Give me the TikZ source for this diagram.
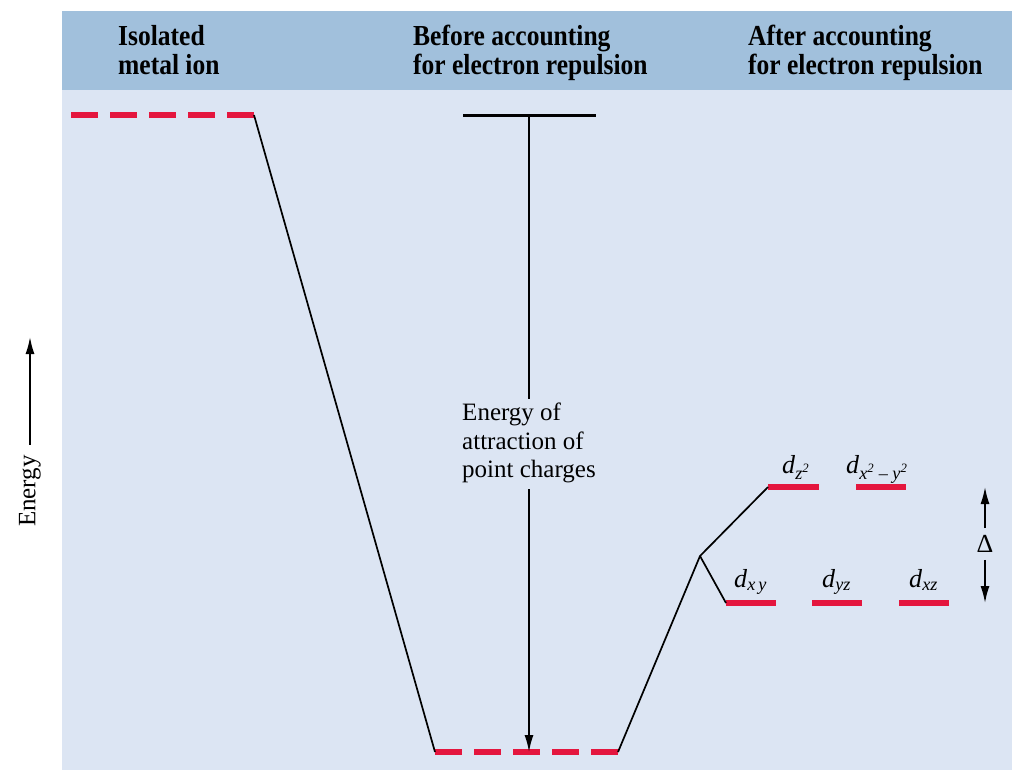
\documentclass[tikz,border=0pt]{standalone}
\usepackage{fontspec}
\setmainfont{Liberation Serif}
\newfontfamily\headfont[FakeStretch=0.88]{Liberation Serif}
\usetikzlibrary{arrows.meta, positioning}
\definecolor{headblue}{RGB}{161,192,220}
\definecolor{panelblue}{RGB}{220,229,243}
\definecolor{levelred}{RGB}{228,22,62}
\newcommand{\orb}[1]{\textit{d}\textsubscript{\itshape #1}}

\begin{document}
\begin{tikzpicture}[x=1pt, y=-1pt,
    redlevel/.style={levelred, line width=6pt},
    dashlevel/.style={redlevel, dash pattern=on 27pt off 12pt},
    link/.style={black, line width=1.7pt},
    arr/.style={link, -{Latex[length=17pt, width=9pt]}},
    head/.style={font=\headfont\bfseries\fontsize{29}{29}\selectfont, align=left, anchor=north west, inner sep=0pt},
    lbl/.style={font=\fontsize{25}{28.5}\selectfont, inner sep=0pt},
    orblbl/.style={lbl, font=\fontsize{26}{28}\selectfont, anchor=base west}]
  \useasboundingbox (0,0) rectangle (1024,782);
  \fill[white] (0,0) rectangle (1024,782);
  % panel and header band
  \fill[panelblue] (62,11) rectangle (1012,770);
  \fill[headblue] (62,11) rectangle (1012,90);
  \node[head] (ionhead) at (118,25) {Isolated\\metal ion};
  \node[head] (beforehead) at (413,25) {Before accounting\\for electron repulsion};
  \node[head] (afterhead) at (748,25) {After accounting\\for electron repulsion};

  % energy axis
  \node[lbl, rotate=90] (energy) at (30,491) {Energy};
  \coordinate (etop) at (30,337);
  \draw[arr, shorten <=10pt] (energy.east) -- (etop);

  % levels
  \coordinate (ion L) at (71,115);
  \coordinate (ion R) at (254,115);
  \coordinate (bare L) at (463,115);
  \coordinate (bare R) at (596,115);
  \coordinate (bare M) at (529,115);
  \coordinate (pc L) at (435,752);
  \coordinate (pc R) at (618,752);
  \coordinate (pc M) at (529,752);
  \coordinate (split) at (700,556);
  \coordinate (eg1 L) at (768,487);
  \coordinate (eg1 R) at (819,487);
  \coordinate (eg2 L) at (856,487);
  \coordinate (eg2 R) at (906,487);
  \coordinate (t1 L) at (726,603);
  \coordinate (t1 R) at (776,603);
  \coordinate (t2 L) at (812,603);
  \coordinate (t2 R) at (862,603);
  \coordinate (t3 L) at (899,603);
  \coordinate (t3 R) at (949,603);

  \draw[dashlevel] (ion L) -- (ion R);
  \draw[dashlevel] (pc L) -- (pc R);
  \draw[black, line width=3pt] (bare L) -- (bare R);
  \foreach \lv in {eg1, eg2, t1, t2, t3}
    \draw[redlevel] (\lv\space L) -- (\lv\space R);

  % connectors
  \draw[link] (ion R) -- (pc L);
  \draw[link] (pc R) -- (split) -- (eg1 L);
  \draw[link] (split) -- (t1 L);

  % attraction of point charges
  \node[lbl, align=left] (attract) at (529,443) {Energy of\\attraction of\\point charges};
  \draw[link, shorten >=4pt] (bare M) -- (attract.north);
  \draw[arr, shorten <=6pt] (attract.south) -- (pc M);

  % orbital labels
  \node[orblbl] (dz2) at (782,473) {\orb{z\textsuperscript{2}}};
  \node[orblbl] (dx2y2) at (846,473) {\orb{x\textsuperscript{2} -- y\textsuperscript{2}}};
  \node[orblbl] (dxy) at (734,587) {\orb{x\,y}};
  \node[orblbl] (dyz) at (822,587) {\orb{yz}};
  \node[orblbl] (dxz) at (909,587) {\orb{xz}};

  % splitting
  \node[lbl, font=\fontsize{26}{28}\selectfont] (delta) at (985,544) {Δ};
  \coordinate (dtop) at (985,487);
  \coordinate (dbot) at (985,603);
  \draw[arr, shorten <=7pt] (delta.north) -- (dtop);
  \draw[arr, shorten <=7pt] (delta.south) -- (dbot);
\end{tikzpicture}
\end{document}
